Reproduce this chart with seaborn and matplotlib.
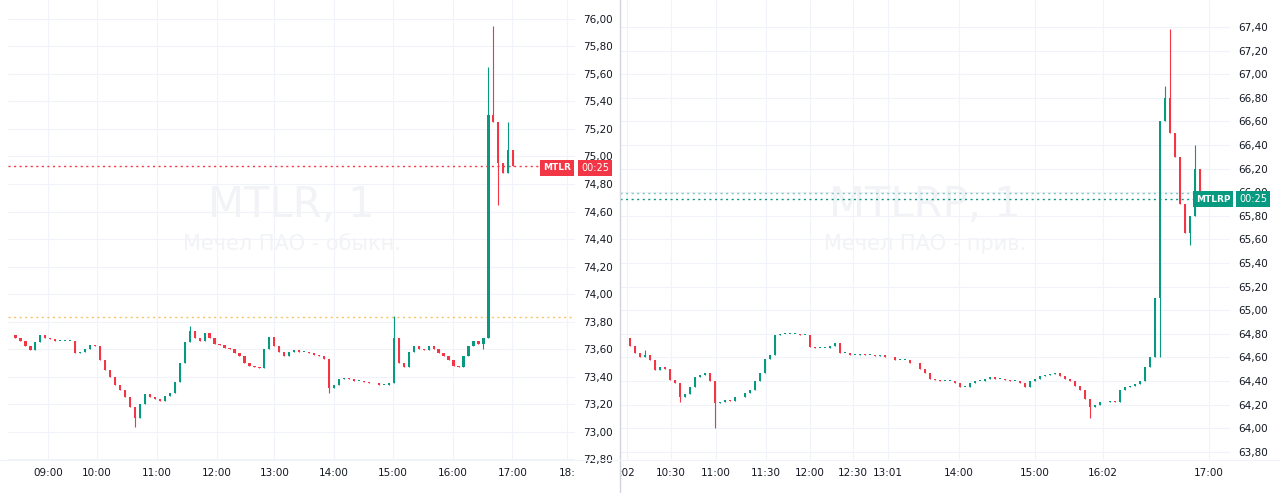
import matplotlib
matplotlib.use("Agg")
import matplotlib.pyplot as plt
import seaborn as sns
import numpy as np

sns.set_theme(style="white")
plt.rcParams['font.family'] = ['DejaVu Sans']

# ---- data ----
left_close = [73.70, 73.68, 73.66, 73.62, 73.59, 73.65, 73.70, 73.68, 73.67, 73.66, 73.66, 73.66, 73.66, 73.57,
              73.58, 73.60, 73.63, 73.62, 73.52, 73.45, 73.40, 73.34, 73.30, 73.25, 73.18, 73.10, 73.20, 73.27,
              73.25, 73.24, 73.22, 73.26, 73.28, 73.36, 73.50, 73.65, 73.73, 73.68, 73.66, 73.72, 73.68, 73.64,
              73.63, 73.61, 73.60, 73.57, 73.55, 73.50, 73.48, 73.47, 73.46, 73.60, 73.69, 73.62, 73.58, 73.55,
              73.58, 73.59, 73.58, 73.58, 73.57, 73.56, 73.55, 73.53, 73.32, 73.34, 73.38, 73.39, 73.38, 73.37,
              73.37, 73.36, 73.35, 73.35, 73.34, 73.34, 73.35, 73.68, 73.50, 73.47, 73.58, 73.62, 73.60, 73.59,
              73.62, 73.60, 73.57, 73.55, 73.52, 73.48, 73.47, 73.55, 73.62, 73.66, 73.64, 73.68, 75.30, 75.25,
              74.95, 74.88, 75.05, 74.93]
left_high = {25: 73.12, 77: 73.84, 96: 75.65, 97: 75.95, 100: 75.25, 36: 73.77}
left_low = {25: 73.03, 96: 73.68, 98: 74.65, 64: 73.28, 95: 73.60}
left_ticks = [7.6, 17.4, 29.4, 41.4, 53, 65, 76.8, 88.8, 100.8, 111.8]
left_tick_labels = ["09:00", "10:00", "11:00", "12:00", "13:00", "14:00", "15:00", "16:00", "17:00", "18:"]

right_close = [64.76, 64.70, 64.64, 64.60, 64.62, 64.58, 64.49, 64.52, 64.50, 64.41, 64.38, 64.26, 64.29, 64.35,
               64.43, 64.45, 64.47, 64.40, 64.21, 64.22, 64.24, 64.23, 64.26, 64.26, 64.30, 64.32, 64.40, 64.47,
               64.59, 64.62, 64.79, 64.80, 64.80, 64.80, 64.80, 64.79, 64.79, 64.69, 64.68, 64.68, 64.68, 64.70,
               64.72, 64.64, 64.64, 64.62, 64.62, 64.63, 64.62, 64.62, 64.61, 64.62, 64.60, 64.60, 64.58, 64.58,
               64.58, 64.55, 64.55, 64.50, 64.47, 64.42, 64.41, 64.40, 64.40, 64.40, 64.38, 64.35, 64.35, 64.38,
               64.40, 64.40, 64.42, 64.43, 64.42, 64.42, 64.41, 64.40, 64.40, 64.38, 64.35, 64.40, 64.42, 64.44,
               64.45, 64.46, 64.47, 64.44, 64.42, 64.40, 64.36, 64.32, 64.25, 64.18, 64.20, 64.22, 64.22, 64.23,
               64.22, 64.32, 64.35, 64.36, 64.37, 64.40, 64.52, 64.60, 65.10, 66.60, 66.80, 66.50, 66.30, 65.90,
               65.65, 65.80, 66.20, 66.00, 65.94]
right_high = {108: 66.90, 109: 67.38, 114: 66.40, 4: 64.66}
right_low = {18: 64.00, 93: 64.09, 107: 64.60, 113: 65.55, 11: 64.22}
right_ticks = [0.4, 9.2, 18.2, 28.2, 37, 45.6, 52.6, 66.8, 82, 95.6, 116.8]
right_tick_labels = [":02", "10:30", "11:00", "11:30", "12:00", "12:30", "13:01", "14:00", "15:00", "16:02", "17:00"]

UP, DOWN = "#089981", "#f23645"
W, H = 1280, 493
fig = plt.figure(figsize=(12.8, 4.93), dpi=100)


def panel(x0, x1, ylim, xlim, closes, highs, lows, yticks, ticks, tlabels, name, title, lines):
    ax = fig.add_axes([x0 / W, 33 / H, (x1 - x0) / W, 460 / H])
    ax.set_xlim(*xlim)
    ax.set_ylim(*ylim)
    opens = [closes[0]] + closes[:-1]
    for i, (o, c) in enumerate(zip(opens, closes)):
        col = UP if c >= o else DOWN
        hi = highs.get(i, max(o, c))
        lo = lows.get(i, min(o, c))
        ax.vlines(i, lo, hi, color=col, lw=0.8, zorder=3)
        h = abs(c - o)
        if h < 0.005:
            h = 0.005
        ax.bar(i, h, bottom=min(o, c), width=0.45, color=col, zorder=3, linewidth=0)
    for y, col in lines:
        ax.axhline(y, color=col, ls=(0, (1.5, 2.5)), lw=1, zorder=2)
    ax.set_yticks(yticks)
    ax.set_yticklabels([f"{v:.2f}".replace(".", ",") for v in yticks], fontsize=7.5, color="#131722")
    ax.yaxis.tick_right()
    ax.set_xticks(ticks)
    ax.set_xticklabels(tlabels, fontsize=7.5, color="#131722")
    ax.tick_params(length=0, pad=6)
    ax.grid(True, color="#f0f3fa", lw=0.8)
    ax.set_axisbelow(True)
    for s in ax.spines.values():
        s.set_visible(False)
    cx = (xlim[0] + xlim[1]) / 2
    ax.text(cx, ylim[0] + (ylim[1] - ylim[0]) * 0.555, title, ha="center", va="center",
            fontsize=30, color="#f2f3f6", zorder=1)
    ax.text(cx, ylim[0] + (ylim[1] - ylim[0]) * 0.47, name, ha="center", va="center",
            fontsize=15, color="#f2f3f6", zorder=1)
    return ax


axL = panel(8, 575, (72.793, 76.138), (-0.5, 113.4), left_close, left_high, left_low,
            list(np.round(np.arange(72.8, 76.01, 0.2), 2)), left_ticks, left_tick_labels,
            "Мечел ПАО - обыкн.", "MTLR, 1",
            [(74.93, DOWN), (73.83, "#f5c26b")])
axR = panel(620, 1230, (63.730, 67.629), (-1, 121), right_close, right_high, right_low,
            list(np.round(np.arange(63.8, 67.41, 0.2), 2)), right_ticks, right_tick_labels,
            "Мечел ПАО - прив.", "MTLRP, 1",
            [(65.99, "#7fc6bd"), (65.94, UP)])

# price tags
fig.text(557 / W, 1 - 168 / H, "MTLR", ha="center", va="center", fontsize=6.5, color="white",
         weight="bold", bbox=dict(boxstyle="square,pad=0.35", fc=DOWN, ec="none"))
fig.text(595 / W, 1 - 168 / H, "00:25", ha="center", va="center", fontsize=7, color="white",
         bbox=dict(boxstyle="square,pad=0.35", fc=DOWN, ec="none"))
fig.text(1213 / W, 1 - 199 / H, "MTLRP", ha="center", va="center", fontsize=6.5, color="white",
         weight="bold", bbox=dict(boxstyle="square,pad=0.35", fc=UP, ec="none"))
fig.text(1253 / W, 1 - 199 / H, "00:25", ha="center", va="center", fontsize=7, color="white",
         bbox=dict(boxstyle="square,pad=0.35", fc=UP, ec="none"))

# separator
fig.add_artist(plt.Line2D([620 / W, 620 / W], [0, 1], color="#d1d4dc", lw=1))
fig.add_artist(plt.Line2D([0, 1], [33 / H, 33 / H], color="#f0f3fa", lw=0.8))

fig.savefig("out.png", dpi=100, facecolor="white")
